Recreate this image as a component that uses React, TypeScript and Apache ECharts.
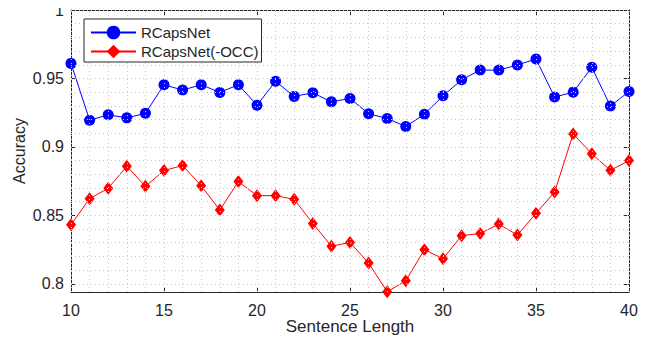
import React, { useEffect, useRef } from "react";
import * as echarts from "echarts";

const sentenceLengths = [10,11,12,13,14,15,16,17,18,19,20,21,22,23,24,25,26,27,28,29,30,31,32,33,34,35,36,37,38,39,40];
const rcapsnet = [0.961,0.9195,0.9234,0.9212,0.9245,0.9454,0.9415,0.9454,0.9398,0.9454,0.9305,0.9479,0.9369,0.9395,0.9329,0.9354,0.9242,0.9208,0.9149,0.9239,0.9373,0.949,0.9561,0.9561,0.9598,0.9642,0.9364,0.94,0.9581,0.9298,0.9405];
const rcapsnetOcc = [0.8432,0.8622,0.8698,0.8859,0.8712,0.8827,0.8864,0.8717,0.8539,0.8747,0.8644,0.8644,0.8617,0.8441,0.8275,0.8302,0.8151,0.7942,0.8022,0.8249,0.8183,0.8351,0.8368,0.8436,0.8356,0.8515,0.867,0.9095,0.8949,0.8829,0.89];
const yTicks = [0.8, 0.85, 0.9, 0.95, 1];
const xMin = 10, xMax = 40, yMin = 0.794, yMax = 1;

const gridY: number[] = [];
for (let i = 80; i <= 100; i++) gridY.push(i / 100);
const gridX: number[] = [];
for (let i = xMin; i <= xMax; i++) gridX.push(i);

const FONT = "Liberation Sans";
const TXT = "#262626";

export default function App() {
  const ref = useRef<HTMLDivElement>(null);
  useEffect(() => {
    const chart = echarts.init(ref.current!, null, { renderer: "svg" });
    const axisLine = { show: true, lineStyle: { color: TXT, width: 1 } };
    chart.setOption({
      animation: false,
      backgroundColor: "#fff",
      grid: { left: 71, right: 19, top: 10, bottom: 51, containLabel: false },
      legend: {
        orient: "vertical",
        left: 84,
        top: 19,
        z: 10,
        itemWidth: 45,
        itemHeight: 17,
        itemGap: 4,
        padding: [6, 3, 3, 6],
        borderColor: TXT,
        borderWidth: 1,
        backgroundColor: "#fff",
        textStyle: { fontFamily: FONT, fontSize: 15, color: TXT },
        data: ["RCapsNet", "RCapsNet(-OCC)"],
      },
      xAxis: [
        {
          type: "value", min: xMin, max: xMax, interval: 5,
          name: "Sentence Length", nameLocation: "middle", nameGap: 26,
          nameMoveOverlap: false,
          nameTextStyle: { fontFamily: FONT, fontSize: 17, color: TXT },
          axisLine, axisTick: { inside: true, length: 5, lineStyle: { color: TXT } },
          axisLabel: { fontFamily: FONT, fontSize: 16, color: TXT, margin: 10 },
          splitLine: { show: false },
        },
        {
          type: "value", min: xMin, max: xMax, interval: 5, position: "top",
          axisLine, axisTick: { inside: true, length: 5, lineStyle: { color: TXT } },
          axisLabel: { show: false }, splitLine: { show: false },
        },
      ],
      yAxis: [
        {
          type: "value", min: yMin, max: yMax,
          name: "Accuracy", nameLocation: "middle", nameGap: 44,
          nameMoveOverlap: false,
          nameTextStyle: { fontFamily: FONT, fontSize: 16, color: TXT },
          axisLine, axisTick: { inside: true, length: 5, customValues: yTicks, lineStyle: { color: TXT } },
          axisLabel: { fontFamily: FONT, fontSize: 16, color: TXT, margin: 7, customValues: yTicks },
          splitLine: { show: false },
        },
        {
          type: "value", min: yMin, max: yMax, position: "right",
          axisLine, axisTick: { inside: true, length: 5, customValues: yTicks, lineStyle: { color: TXT } },
          axisLabel: { show: false, customValues: yTicks }, splitLine: { show: false },
        },
      ],
      series: [
        {
          type: "line", name: "grid", data: [], silent: true, z: 0,
          markLine: {
            silent: true, symbol: "none", animation: false,
            label: { show: false },
            lineStyle: { color: "#c8c8c8", type: [1, 3], width: 1 },
            data: [
              ...gridY.map((v) => ({ yAxis: v })),
              ...gridX.map((v) => ({ xAxis: v })),
            ],
          },
        },
        {
          type: "line", name: "RCapsNet", z: 3,
          data: sentenceLengths.map((x, i) => [x, rcapsnet[i]]),
          symbol: "circle", symbolSize: 11,
          lineStyle: { color: "#0000ff", width: 1, type: "solid" },
          itemStyle: { color: "#0000ff", borderWidth: 0 },
        },
        {
          type: "line", name: "RCapsNet(-OCC)", z: 3,
          data: sentenceLengths.map((x, i) => [x, rcapsnetOcc[i]]),
          symbol: "diamond", symbolSize: [10, 13],
          lineStyle: { color: "#ff0000", width: 1, type: "solid" },
          itemStyle: { color: "#ff0000", borderWidth: 0 },
        },
      ],
    });
    return () => chart.dispose();
  }, []);
  return <div ref={ref} style={{ width: 648, height: 343, margin: -8 }} />;
}
